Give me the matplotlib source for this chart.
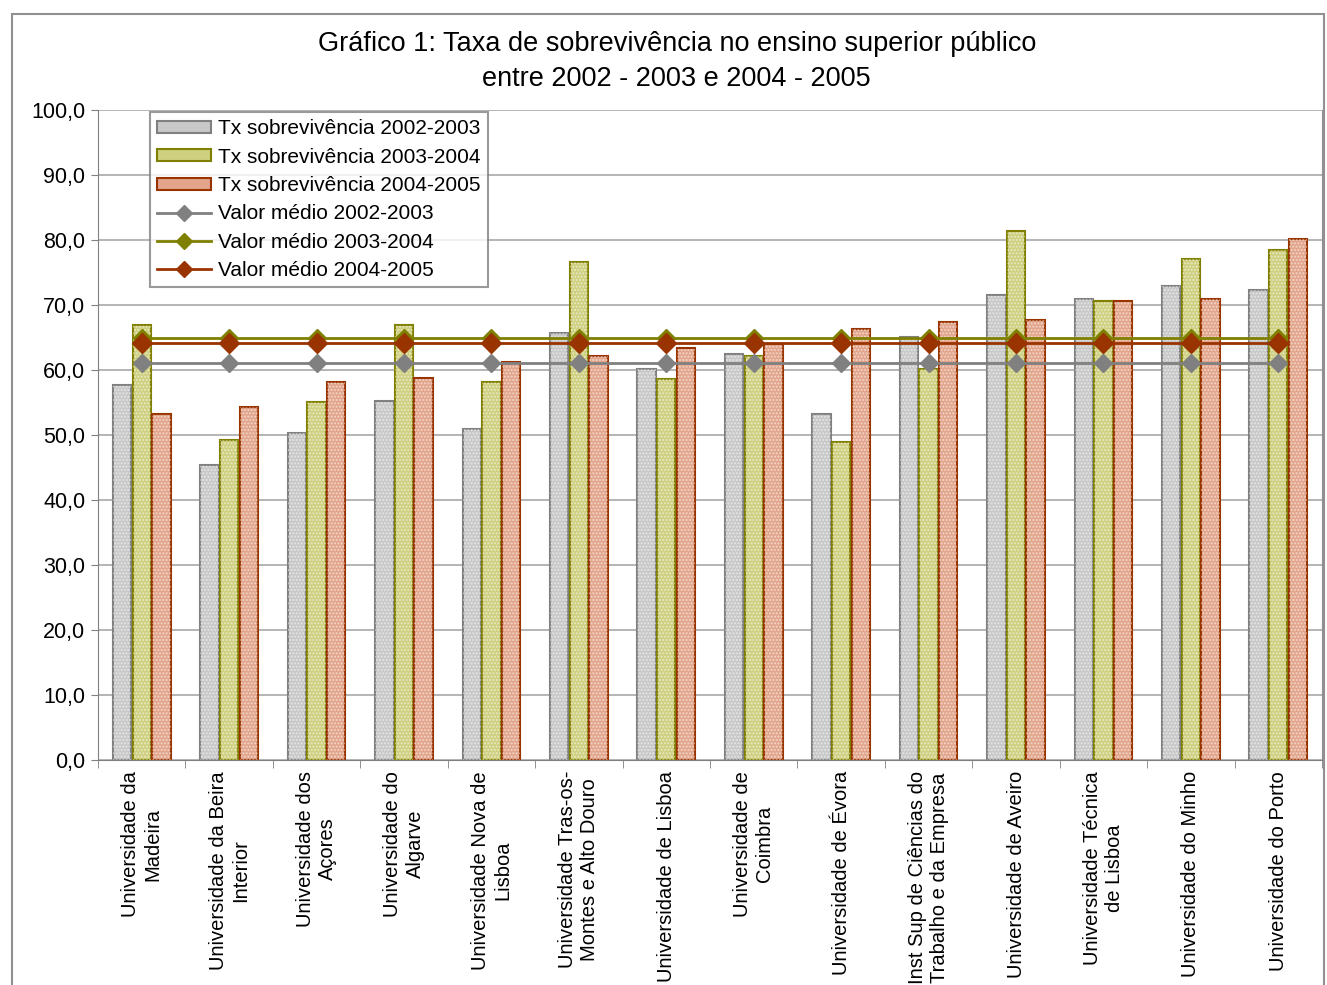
import matplotlib
matplotlib.use("Agg")
import matplotlib.pyplot as plt
import matplotlib.patches as patches
from matplotlib.lines import Line2D
import numpy as np

plt.rcParams['font.family'] = ['Liberation Sans', 'DejaVu Sans']

universidades = [
    "Universidade da\nMadeira",
    "Universidade da Beira\nInterior",
    "Universidade dos\nAçores",
    "Universidade do\nAlgarve",
    "Universidade Nova de\nLisboa",
    "Universidade Tras-os-\nMontes e Alto Douro",
    "Universidade de Lisboa",
    "Universidade de\nCoimbra",
    "Universidade de Évora",
    "Inst Sup de Ciências do\nTrabalho e da Empresa",
    "Universidade de Aveiro",
    "Universidade Técnica\nde Lisboa",
    "Universidade do Minho",
    "Universidade do Porto",
]
tx_2002_2003 = [57.7, 45.4, 50.3, 55.2, 50.9, 65.7, 60.2, 62.5, 53.2, 65.1, 71.5, 70.9, 72.9, 72.3]
tx_2003_2004 = [66.9, 49.2, 55.1, 66.9, 58.2, 76.6, 58.6, 62.2, 48.9, 60.2, 81.4, 70.6, 77.1, 78.5]
tx_2004_2005 = [53.2, 54.3, 58.2, 58.8, 61.2, 62.2, 63.4, 64.0, 66.3, 67.4, 67.7, 70.6, 70.9, 80.2]
media_2002_2003 = 61.1
media_2003_2004 = 64.9
media_2004_2005 = 64.2

fig = plt.figure(figsize=(13.27, 9.85), dpi=100, facecolor='white')
ax = fig.add_axes([98/1327, 1-760/985, (1322-98)/1327, 650/985])

x = np.arange(len(universidades))
w = 0.21
off = 0.225

series = [
    (tx_2002_2003, '#c8c8c8', '#808080', -off),
    (tx_2003_2004, '#cfcf80', '#808000', 0),
    (tx_2004_2005, '#e2a58c', '#993300', off),
]
for vals, fc, ec, dx in series:
    ax.bar(x + dx, vals, width=w, color=fc, edgecolor=ec, linewidth=1.5, zorder=2)
    ax.bar(x + dx, vals, width=w, facecolor='none', edgecolor=(1, 1, 1, 0.5),
           hatch='.....', linewidth=0, zorder=2)

ax.plot(x, [media_2002_2003] * len(x), color='#808080', lw=2, marker='D', ms=9,
        zorder=3)
ax.plot(x, [media_2003_2004] * len(x), color='#808000', lw=2, marker='D', ms=9,
        zorder=3)
ax.plot(x, [media_2004_2005] * len(x), color='#993300', lw=2, marker='D', ms=10,
        zorder=3)

ax.set_xlim(-0.5, len(x) - 0.5)
ax.set_ylim(0, 100)
ax.set_yticks(np.arange(0, 101, 10))
ax.set_yticklabels([f"{v:.1f}".replace('.', ',') for v in range(0, 101, 10)], fontsize=15.5)
ax.yaxis.grid(True, color='#a8a8a8', lw=1.2, zorder=0)
ax.set_axisbelow(True)

ax.set_xticks(x)
ax.set_xticklabels(universidades, rotation=90, fontsize=14.5, ha='center', va='top',
                   multialignment='center')
ax.tick_params(axis='x', length=0, pad=8)
ax.set_xticks(np.arange(-0.5, len(x), 1), minor=True)
ax.tick_params(axis='x', which='minor', length=6, color='#808080')
ax.tick_params(axis='y', length=5, color='#808080', pad=4)

ax.spines['top'].set_visible(False)
ax.spines['left'].set_color('#808080')
ax.spines['bottom'].set_color('#808080')
ax.spines['right'].set_color('#909090')

fig.text(0.51, 1-44/985, "Gráfico 1: Taxa de sobrevivência no ensino superior público",
         ha='center', va='center', fontsize=19.5)
fig.text(0.51, 1-79/985, "entre 2002 - 2003 e 2004 - 2005",
         ha='center', va='center', fontsize=19.5)

handles = [
    patches.Patch(facecolor='#c8c8c8', edgecolor='#808080', lw=1.5),
    patches.Patch(facecolor='#cfcf80', edgecolor='#808000', lw=1.5),
    patches.Patch(facecolor='#e2a58c', edgecolor='#993300', lw=1.5),
    Line2D([], [], color='#808080', lw=2, marker='D', ms=8),
    Line2D([], [], color='#808000', lw=2, marker='D', ms=8),
    Line2D([], [], color='#993300', lw=2, marker='D', ms=8),
]
labels = ["Tx sobrevivência 2002-2003", "Tx sobrevivência 2003-2004",
          "Tx sobrevivência 2004-2005", "Valor médio 2002-2003",
          "Valor médio 2003-2004", "Valor médio 2004-2005"]
leg = fig.legend(handles, labels, loc='upper left',
                 bbox_to_anchor=(150/1327, 1-112/985), fontsize=15,
                 frameon=True, fancybox=False, edgecolor='#808080',
                 handlelength=2.6, handleheight=0.5, labelspacing=0.45,
                 borderpad=0.35, handletextpad=0.3, borderaxespad=0)
leg.get_frame().set_linewidth(1.5)

border = patches.Rectangle((12/1327, -0.01), (1324-12)/1327, (985-14)/985 + 0.01,
                           transform=fig.transFigure, fill=False,
                           edgecolor='#909090', lw=1.5)
fig.add_artist(border)

fig.savefig('out.png', dpi=100)
